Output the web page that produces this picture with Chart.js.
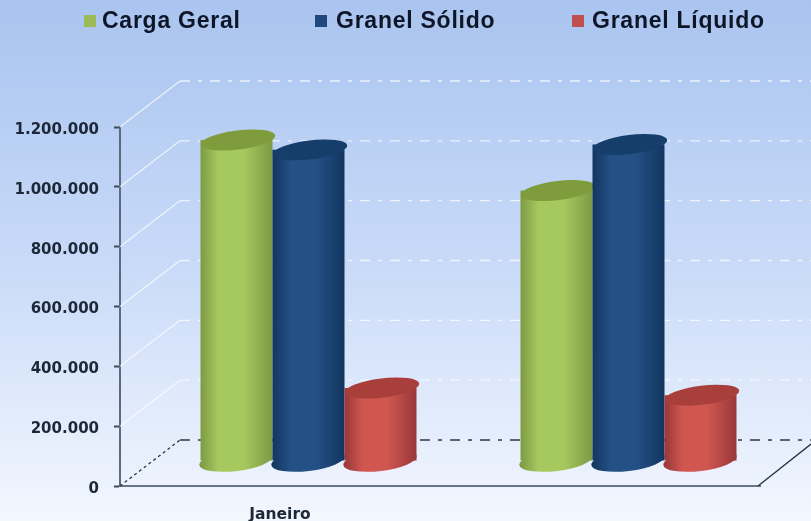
<!DOCTYPE html>
<html>
<head>
<meta charset="utf-8">
<script src="https://cdn.jsdelivr.net/npm/chart.js@4"></script>
<style>
html,body{margin:0;padding:0;width:811px;height:521px;overflow:hidden}
body{background:linear-gradient(180deg,#a9c4ef 0%,#c8daf8 50%,#f3f7fe 100%)}
#wrap{position:relative;width:811px;height:521px}
canvas{display:block}
</style>
</head>
<body>
<div id="wrap"><canvas id="c" width="811" height="521"></canvas></div>
<script>
const categories = ['Janeiro', ''];
const cargaGeral = [1073000, 904000];
const granelSolido = [1040000, 1058000];
const granelLiquido = [244000, 220000];
const seriesNames = ['Carga Geral', 'Granel Sólido', 'Granel Líquido'];
const yTicks = [0, 200000, 400000, 600000, 800000, 1000000, 1200000];

const sideEdge = ['#7d9a44', '#123660', '#98383a'];
const sideMid = ['#a5c95e', '#245086', '#d05650'];
const topFill = ['#7f9c3c', '#163e6b', '#a83f3b'];
const legendFill = ['#9bbb59', '#1f497d', '#c0504d'];

const DEPTH_X = 60, DEPTH_Y = -46;
const SHIFT_X = 28.5, SHIFT_Y = -25;
const TILT = -7 * Math.PI / 180;

function fmt(v){ return String(v).replace(/\B(?=(\d{3})+(?!\d))/g, '.'); }

function ellipse(ctx, x, y, rx, ry, fill){
  ctx.beginPath();
  ctx.ellipse(x, y, rx, ry, TILT, 0, Math.PI * 2);
  ctx.fillStyle = fill;
  ctx.fill();
}

const wall = {
  id: 'wall',
  afterLayout(chart){
    chart.scales.y.getLabelItems().forEach(it => { it.options.translation[1] += 3; });
  },
  beforeDatasetsDraw(chart){
    const ctx = chart.ctx, y = chart.scales.y, a = chart.chartArea;
    ctx.save();
    yTicks.forEach(v => {
      const p = y.getPixelForValue(v);
      const zero = v === 0;
      ctx.strokeStyle = zero ? '#2c3644' : 'rgba(255,255,255,0.72)';
      ctx.lineWidth = 1.3;
      ctx.setLineDash(zero ? [3, 3] : []);
      ctx.beginPath();
      ctx.moveTo(a.left, p);
      ctx.lineTo(a.left + DEPTH_X, p + DEPTH_Y);
      ctx.stroke();
      ctx.setLineDash([10, 8, 4, 8]);
      ctx.beginPath();
      ctx.moveTo(a.left + DEPTH_X, p + DEPTH_Y);
      ctx.lineTo(chart.width, p + DEPTH_Y);
      ctx.stroke();
    });
    ctx.setLineDash([]);
    const b = y.getPixelForValue(0);
    ctx.strokeStyle = '#2c3644';
    ctx.lineWidth = 1.4;
    ctx.beginPath();
    ctx.moveTo(a.right - 2, b);
    ctx.lineTo(chart.width, b - 42);
    ctx.stroke();
    ctx.restore();
  }
};

const cylinders = {
  id: 'cylinders',
  beforeDatasetsDraw(chart){
    const ctx = chart.ctx;
    ctx.save();
    ctx.translate(SHIFT_X, SHIFT_Y);
    chart.data.datasets.forEach((ds, i) => {
      chart.getDatasetMeta(i).data.forEach(el => {
        const p = el.getProps(['x', 'y', 'base', 'width']);
        const left = p.x - p.width / 2, right = p.x + p.width / 2;
        const g = ctx.createLinearGradient(left, 0, right, 0);
        g.addColorStop(0, sideEdge[i]);
        g.addColorStop(0.25, sideMid[i]);
        g.addColorStop(0.6, sideMid[i]);
        g.addColorStop(1, sideEdge[i]);
        ellipse(ctx, p.x - 0.5, p.base, p.width / 2 + 1, 10.5, g);
        el.options = Object.assign({}, el.options, {backgroundColor: g, borderWidth: 0});
        el.draw(ctx);
        ellipse(ctx, p.x + 1.5, p.y, p.width / 2 + 1.5, 9.5, topFill[i]);
      });
    });
    ctx.restore();
  },
  beforeDatasetDraw(){ return false; }
};

const topLegend = {
  id: 'topLegend',
  afterDraw(chart){
    const ctx = chart.ctx;
    const boxX = [84, 315, 572], textX = [102, 336, 592];
    ctx.save();
    ctx.font = 'bold 23px "Liberation Sans"';
    ctx.letterSpacing = '0.75px';
    ctx.textBaseline = 'middle';
    chart.data.datasets.forEach((ds, i) => {
      ctx.fillStyle = legendFill[i];
      ctx.fillRect(boxX[i], 15, 12, 12);
      ctx.fillStyle = '#0d1526';
      ctx.fillText(ds.label, textX[i], 22);
    });
    ctx.restore();
  }
};

new Chart(document.getElementById('c'), {
  type: 'bar',
  data: {
    labels: categories,
    datasets: [
      {label: seriesNames[0], data: cargaGeral, backgroundColor: legendFill[0], clip: false},
      {label: seriesNames[1], data: granelSolido, backgroundColor: legendFill[1], clip: false},
      {label: seriesNames[2], data: granelLiquido, backgroundColor: legendFill[2], clip: false}
    ]
  },
  plugins: [wall, cylinders, topLegend],
  options: {
    responsive: false,
    animation: false,
    devicePixelRatio: 1,
    layout: {padding: {left: 15, right: 51, top: 127, bottom: 0}},
    datasets: {bar: {categoryPercentage: 0.675, barPercentage: 1}},
    plugins: {legend: {display: false}, tooltip: {enabled: false}, title: {display: false}},
    scales: {
      x: {
        afterFit(s){ s.height = 35; },
        grid: {display: false, drawTicks: false},
        border: {color: '#667487', width: 2},
        ticks: {color: '#1c2838', padding: 20, maxRotation: 0, autoSkip: false,
                font: {family: '"DejaVu Sans"', weight: 'bold', size: 15.5}}
      },
      y: {
        min: 0, max: 1200000,
        afterFit(s){ s.width = 105; },
        afterBuildTicks(s){ s.ticks = yTicks.map(v => ({value: v})); },
        grid: {drawOnChartArea: false, tickLength: 6, tickColor: '#3c4a5c', tickWidth: 2},
        border: {color: '#5b6a7e', width: 2},
        ticks: {color: '#1c2838', padding: 15, callback: v => fmt(v),
                font: {family: '"DejaVu Sans"', weight: 'bold', size: 15}}
      }
    }
  }
});
</script>
</body>
</html>
